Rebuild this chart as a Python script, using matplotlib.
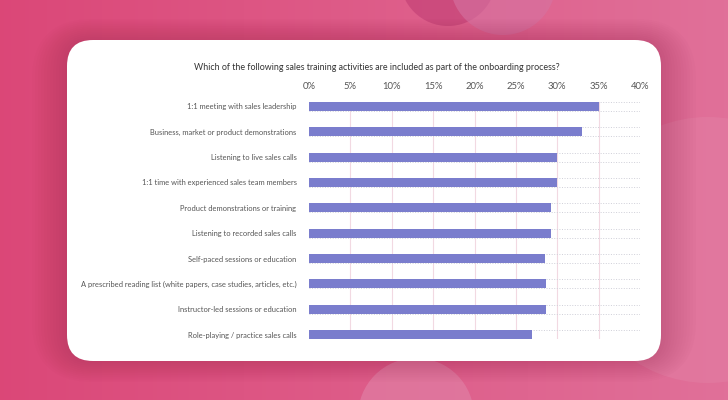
import matplotlib
import numpy as np

matplotlib.use("Agg")
import matplotlib.pyplot as plt
from matplotlib.patches import FancyBboxPatch, Circle


# survey data (percent of respondents)
categories = [
    "1:1 meeting with sales leadership",
    "Business, market or product demonstrations",
    "Listening to live sales calls",
    "1:1 time with experienced sales team members",
    "Product demonstrations or training",
    "Listening to recorded sales calls",
    "Self-paced sessions or education",
    "A prescribed reading list (white papers, case studies, articles, etc.)",
    "Instructor-led sessions or education",
    "Role-playing / practice sales calls",
]
values = [35.1, 33.0, 30.0, 30.0, 29.2, 29.3, 28.5, 28.6, 28.6, 26.9]
xticks = [0, 5, 10, 15, 20, 25, 30, 35, 40]
title = "Which of the following sales training activities are included as part of the onboarding process?"

W, H = 728, 400
BAR_COLOR = "#7a7dcd"
TEXT_COLOR = "#555555"

plt.rcParams["font.family"] = ["Lato", "DejaVu Sans"]

fig = plt.figure(figsize=(W / 100, H / 100), dpi=100)

# ---- background ----
bg = fig.add_axes([0, 0, 1, 1])
bg.set_xlim(0, W)
bg.set_ylim(H, 0)
bg.axis("off")

left_c = np.array([0.86, 0.28, 0.47])
right_c = np.array([0.88, 0.44, 0.60])
t = np.linspace(0, 1, 200)[None, :, None]
grad = left_c * (1 - t) + right_c * t
grad = np.repeat(grad, 2, axis=0)
bg.imshow(grad, extent=[0, W, H, 0], aspect="auto", zorder=0)

bg.add_patch(Circle((448, -22), 48, color="#c03e74", alpha=0.6, lw=0, zorder=1))
bg.add_patch(Circle((503, -18), 53, color="#d674a2", alpha=0.6, lw=0, zorder=1))
bg.add_patch(Circle((416, 416), 58, color="#e07ca2", alpha=0.75, lw=0, zorder=1))
bg.add_patch(Circle((708, 250), 133, color="#e27ea3", alpha=0.55, lw=0, zorder=1))

# card shadow
for i in range(12):
    grow = 2 + i * 3
    bg.add_patch(FancyBboxPatch(
        (67 - grow, 40 - grow * 0.6), 594 + 2 * grow, 321 + 1.2 * grow,
        boxstyle="round,pad=0,rounding_size=%d" % (26 + grow),
        fc="#8a1f45", ec="none", alpha=0.025, zorder=2))

bg.add_patch(FancyBboxPatch(
    (67, 40), 594, 321, boxstyle="round,pad=0,rounding_size=26",
    fc="white", ec="none", zorder=3))

fig.text(377 / W, 1 - 68 / H, title, ha="center", va="center",
         fontsize=6.4, color="#333333")

# ---- chart ----
ax = fig.add_axes([309 / W, 1 - 339 / H, 331 / W, 237 / H])
ax.patch.set_alpha(0)
ypos = np.arange(len(categories))
bar_h = 0.35
ax.barh(ypos, values, height=bar_h, color=BAR_COLOR, zorder=3)

ax.set_xlim(0, 40)
ax.set_ylim(len(categories) - 1 + bar_h / 2, -bar_h / 2)
ax.set_xticks(xticks)
ax.set_xticklabels([f"{v}%" for v in xticks])
ax.xaxis.tick_top()
ax.tick_params(axis="x", length=0, pad=8, labelsize=6.8, labelcolor=TEXT_COLOR)
ax.set_yticks(ypos)
ax.set_yticklabels(categories)
ax.tick_params(axis="y", length=0, pad=9, labelsize=5.45, labelcolor=TEXT_COLOR)

for s in ax.spines.values():
    s.set_visible(False)

for x in xticks[1:-1]:
    ax.axvline(x, color="#f2d9e2", lw=0.8, zorder=1)
ax.axvline(40, color="#cfcfd8", lw=0.7, ls=":", zorder=1)
for y in ypos:
    for e in (y - bar_h / 2, y + bar_h / 2):
        ax.axhline(e, color="#cfcfd8", lw=0.7, ls=":", zorder=1)

fig.savefig("out.png", dpi=100)
